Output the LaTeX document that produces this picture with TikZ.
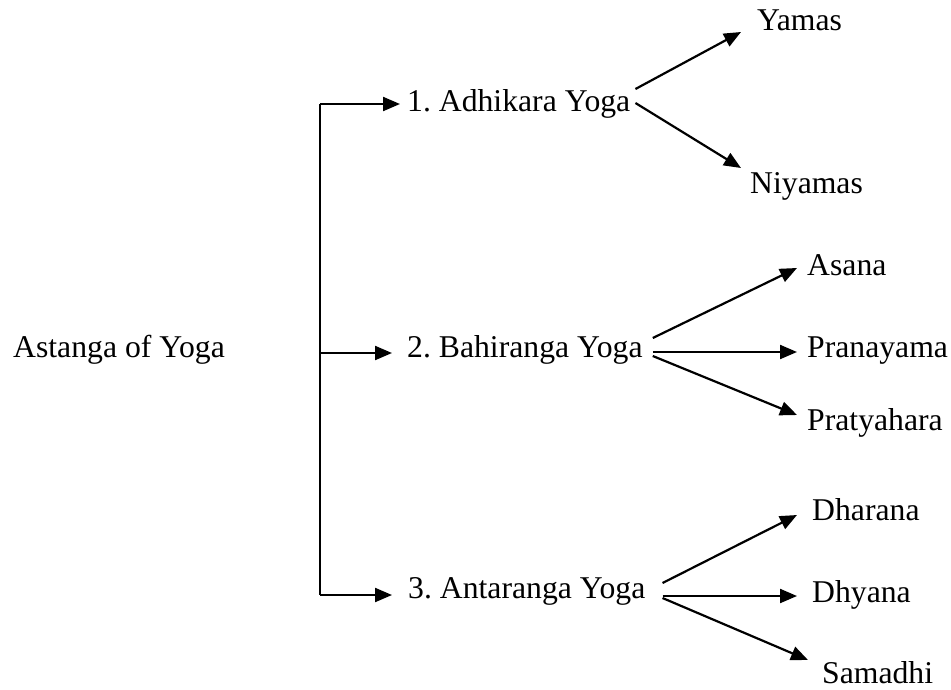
\documentclass[tikz,border=0pt]{standalone}
\usepackage{fontspec}
\setmainfont{Liberation Serif}
\usetikzlibrary{arrows.meta}
\frenchspacing
\begin{document}
\begin{tikzpicture}[x=1pt,y=-1pt,
  lbl/.style={anchor=base west,inner sep=0pt,font=\fontsize{31.7}{38}\selectfont},
  link/.style={line width=2.2pt},
  arr/.style={link,-{Triangle[length=17pt,width=14pt]}}]
\useasboundingbox (0,0) rectangle (951,689);

% labels
\node[lbl] (root) at (13,357) {Astanga of Yoga};
\node[lbl] (adh)  at (407,111) {1. Adhikara Yoga};
\node[lbl] (bah)  at (407,357) {2. Bahiranga Yoga};
\node[lbl] (ant)  at (408,598) {3. Antaranga Yoga};
\node[lbl] (yam)  at (757,30)  {Yamas};
\node[lbl] (niy)  at (750,193) {Niyamas};
\node[lbl] (asa)  at (807,275) {Asana};
\node[lbl] (pran) at (807,357) {Pranayama};
\node[lbl] (prat) at (807,430) {Pratyahara};
\node[lbl] (dhar) at (812,520) {Dharana};
\node[lbl] (dhy)  at (812,602) {Dhyana};
\node[lbl] (sam)  at (822,683) {Samadhi};

% trunk of the bracket
\coordinate (tTop) at (320,104);
\coordinate (tMid) at (320,353);
\coordinate (tBot) at (320,595);
\draw[link] (tTop) -- (tBot);
\draw[arr] (tTop) -- ([shift={(-7,-7)}]adh.base west);
\draw[arr] (tMid) -- ([shift={(-15,-4)}]bah.base west);
\draw[arr] (tBot) -- ([shift={(-16,-3)}]ant.base west);

% Adhikara Yoga
\draw[arr] ([shift={(5,-22)}]adh.base east) -- ([shift={(-16,2)}]yam.base west);
\draw[arr] ([shift={(5,-8)}]adh.base east) -- ([shift={(-9,-25)}]niy.base west);

% Bahiranga Yoga
\draw[arr] ([shift={(10,-19)}]bah.base east) -- ([shift={(-10,-7)}]asa.base west);
\draw[arr] ([shift={(10,-5)}]bah.base east) -- ([shift={(-10,-5)}]pran.base west);
\draw[arr] ([shift={(10,-1)}]bah.base east) -- ([shift={(-10,-15)}]prat.base west);

% Antaranga Yoga
\draw[arr] ([shift={(17,-15)}]ant.base east) -- ([shift={(-15,-5)}]dhar.base west);
\draw[arr] ([shift={(17,-2)}]ant.base east) -- ([shift={(-15,-6)}]dhy.base west);
\draw[arr] ([shift={(17,0)}]ant.base east) -- ([shift={(-14,-23)}]sam.base west);
\end{tikzpicture}
\end{document}
